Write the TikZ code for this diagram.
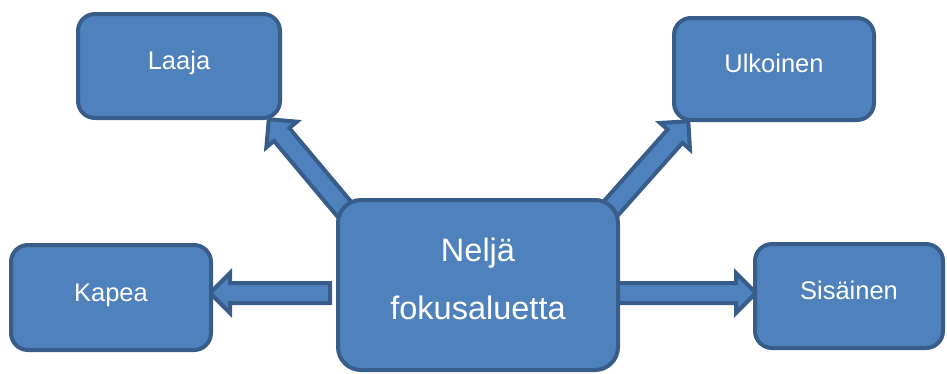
\documentclass[tikz,border=0pt]{standalone}
\usepackage{fontspec}
\setmainfont{Liberation Sans}
\usetikzlibrary{shapes.arrows,calc,backgrounds}
\definecolor{boxfill}{HTML}{4F81BD}
\definecolor{boxline}{HTML}{385D8A}

\begin{document}
\begin{tikzpicture}
    [ x=1pt, y=-1pt,
      main-node/.style = {
        shape=rectangle, rounded corners=23pt,
        draw=boxline, line width=4pt, fill=boxfill, text=white,
        minimum width=280pt, minimum height=170pt, align=center,
        font=\fontsize{32.5}{58}\selectfont,
        text height=81pt, text depth=13pt
      },
      sub-node/.style = {
        shape=rectangle, rounded corners=17pt,
        draw=boxline, line width=4pt, fill=boxfill, text=white,
        minimum height=104pt, font=\fontsize{25.5}{30}\selectfont,
        text height=18pt, text depth=11pt
      },
      block-arrow/.style = {
        single arrow, draw=boxline, line width=4pt, fill=boxfill,
        inner xsep=0pt, inner ysep=8pt, single arrow head extend=10pt
      },
      fat-arrow/.style = {
        to path={let \p1=($(\tikztotarget)-(\tikztostart)$),
          \n1={veclen(\x1,\y1)}, \n2={atan2(\y1,\x1)} in
          node [block-arrow, minimum height=\n1, rotate=\n2]
          at ($(\tikztostart)!0.5!(\tikztotarget)$) {}}
      }]
      \useasboundingbox (0,0) rectangle (947,373);
      \node [sub-node, minimum width=202pt] (laaja) at (179,66) {Laaja};
      \node [sub-node, minimum width=200pt, minimum height=102pt] (ulkoinen) at (774,69) {Ulkoinen};
      \node [sub-node, minimum width=200pt, minimum height=105pt] (kapea) at (111,297.5) {Kapea};
      \node [sub-node, minimum width=188pt] (sisainen) at (849,296) {Sisäinen};
      \node [main-node] (fokus) at (478,285) {Neljä\\fokusaluetta};
      \begin{scope}[on background layer]
        \path [fat-arrow] ([shift={(-1,8)}]fokus.west) to ([shift={(2,-4.5)}]kapea.east);
        \path [fat-arrow] ([shift={(-10,8)}]fokus.east) to ([shift={(-2,-3)}]sisainen.west);
        \path [fat-arrow] ([shift={(14,18)}]fokus.north west) to ([shift={(-10,3)}]laaja.south east);
        \path [fat-arrow] ([shift={(-16,18)}]fokus.north east) to ([shift={(13,3)}]ulkoinen.south west);
      \end{scope}
  \end{tikzpicture}
\end{document}
